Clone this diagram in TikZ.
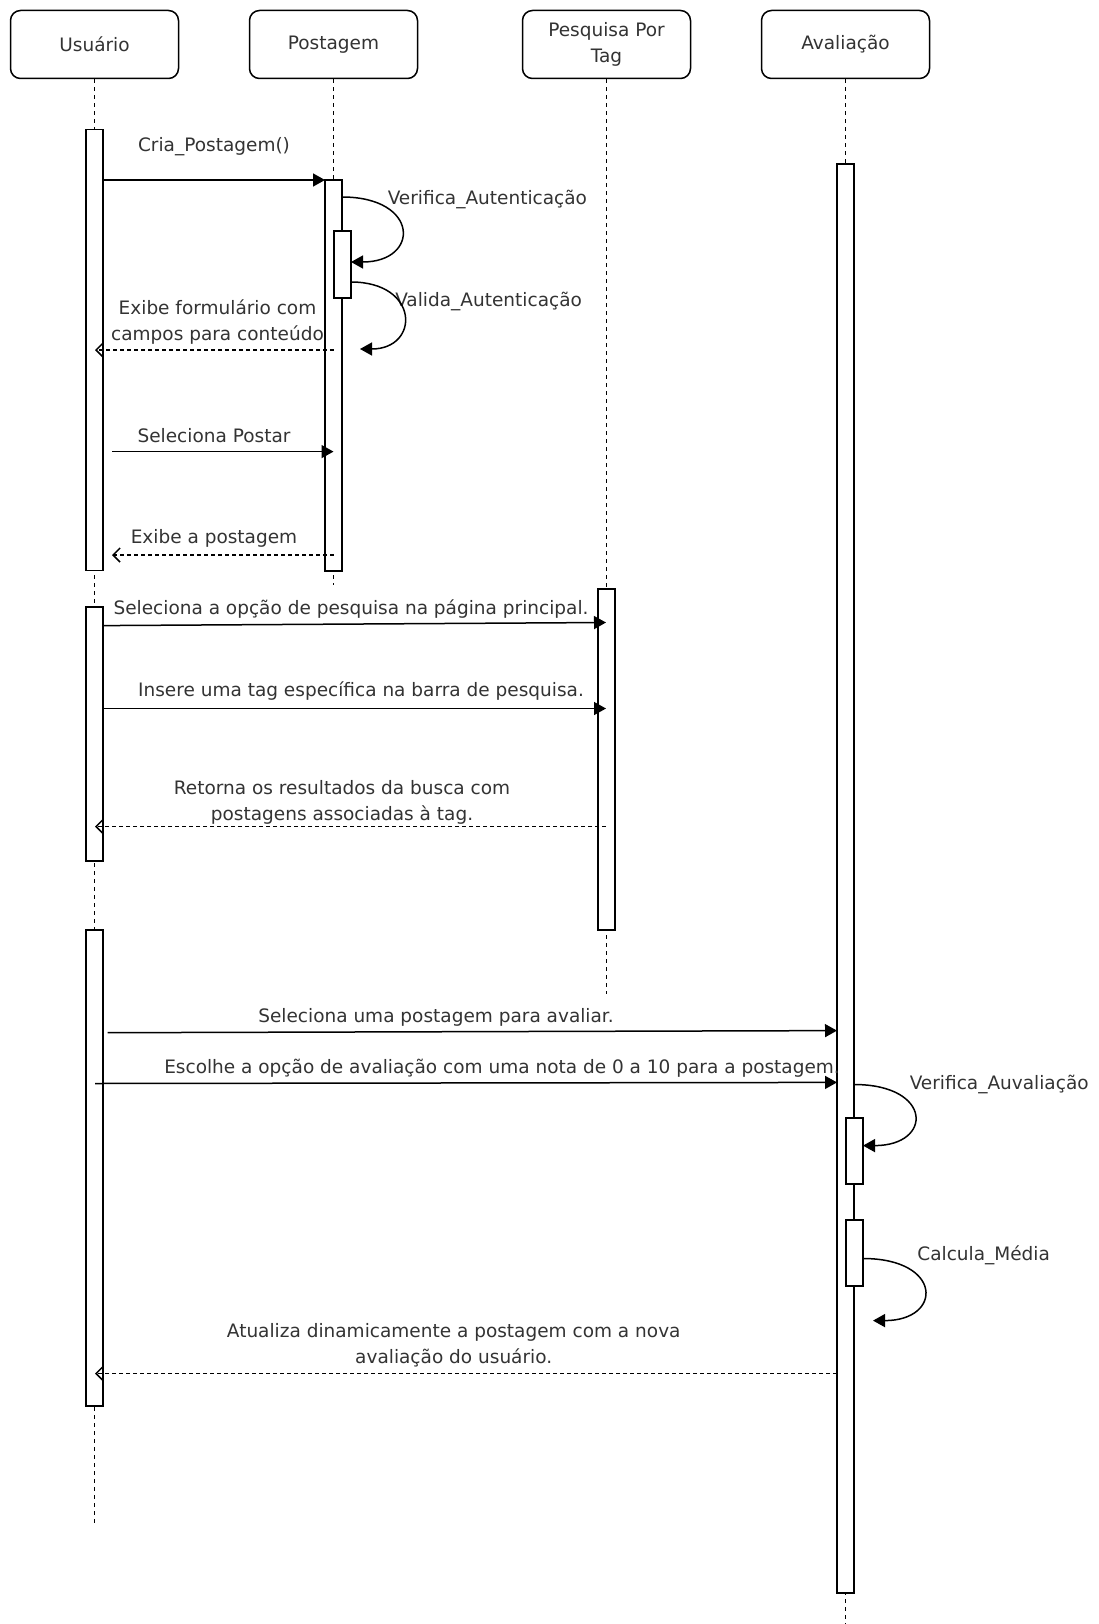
\documentclass[tikz,border=0pt]{standalone}
\usepackage{fontspec}
\setmainfont{DejaVu Sans}
\usetikzlibrary{arrows.meta}
\definecolor{txt}{HTML}{333333}
\newcommand\lblfont{\fontsize{18.5}{26}\selectfont}
\begin{document}
\begin{tikzpicture}[x=1pt,y=-1pt,line width=1.5pt,
  head/.style={draw,rounded corners=10pt,minimum width=168pt,minimum height=68pt,
    align=center,fill=white,text=txt,font=\lblfont,inner sep=2pt},
  bar/.style={draw,fill=white,minimum width=17pt,inner sep=0pt},
  life/.style={dash pattern=on 4pt off 4pt,line width=1.3pt},
  msg/.style={-{Triangle[length=12pt,width=13pt]}},
  ret/.style={dash pattern=on 4pt off 3pt,-{Straight Barb[length=7pt,width=14pt]}},
  lbl/.style={text=txt,font=\lblfont,align=center,inner sep=1pt},
  lblw/.style={lbl,anchor=west}]
\useasboundingbox (0,0) rectangle (1098,1624);
% heads
\node[head] (usr) at (94.5,44.5) {Usuário};
\node[head] (pst) at (333.5,44.5) {Postagem};
\node[head] (pes) at (606.5,44.5) {Pesquisa Por\\Tag};
\node[head] (ava) at (845.5,44.5) {Avaliação};
% lifeline ends
\coordinate (usrE) at (94.5,1525);
\coordinate (pstE) at (333.5,585);
\coordinate (pesE) at (606.5,994);
\coordinate (avaE) at (845.5,1624);
\draw[life] (usr) -- (usrE);
\draw[life] (pst) -- (pstE);
\draw[life] (pes) -- (pesE);
\draw[life] (ava) -- (avaE);
% activation bars
\node[bar,minimum height=441pt] (u1) at (94.5,350.1) {};
\node[bar,minimum height=254pt] (u2) at (94.5,734) {};
\node[bar,minimum height=476pt] (u3) at (94.5,1168) {};
\node[bar,minimum height=391pt] (p1) at (333.5,375.5) {};
\node[bar,minimum height=67pt] (pn) at (342.5,264.5) {};
\node[bar,minimum height=341pt] (q1) at (606.5,759.5) {};
\node[bar,minimum height=1429pt] (a1) at (845.5,878.3) {};
\node[bar,minimum height=66pt] (an1) at (854.5,1150.8) {};
\node[bar,minimum height=66pt] (an2) at (854.5,1253) {};
% message end points
\coordinate (m1a) at (103,180);   \coordinate (m1b) at (325,180);
\coordinate (s1a) at (342,197);   \coordinate (s1b) at (351,262);
\coordinate (s2a) at (351,282);   \coordinate (s2b) at (360,349);
\coordinate (r1a) at (333.5,350); \coordinate (r1b) at (95,350);
\coordinate (m2a) at (112,451.6); \coordinate (m2b) at (333.5,451.6);
\coordinate (r2a) at (333.5,555); \coordinate (r2b) at (112,555);
\coordinate (m3a) at (103,625.6); \coordinate (m3b) at (606,622.5);
\coordinate (m4a) at (103,708.5); \coordinate (m4b) at (606,708.5);
\coordinate (r3a) at (606,826.6); \coordinate (r3b) at (95,826.6);
\coordinate (m5a) at (107.7,1032.7); \coordinate (m5b) at (837,1030.6);
\coordinate (m6a) at (95,1083.5); \coordinate (m6b) at (837,1082.4);
\coordinate (s3a) at (854,1084.5); \coordinate (s3b) at (863,1145.6);
\coordinate (s4a) at (863,1258.5); \coordinate (s4b) at (873,1320.6);
\coordinate (r4a) at (837,1373.5); \coordinate (r4b) at (95,1373.5);
% labels
\node[lbl] (l1) at (214,147) {Cria\_Postagem()};
\node[lblw] (l2) at (386,199) {Verifica\_Autenticação};
\node[lblw] (l3) at (393.5,301) {Valida\_Autenticação};
\node[lbl] (l4) at (217.5,322.5) {Exibe formulário com\\campos para conteúdo};
\node[lbl] (l5) at (214,436) {Seleciona Postar};
\node[lbl] (l6) at (214,538.6) {Exibe a postagem};
\node[lbl] (l7) at (351,609) {Seleciona a opção de pesquisa na página principal.};
\node[lbl] (l8) at (361,691) {Insere uma tag específica na barra de pesquisa.};
\node[lbl] (l9) at (342,802) {Retorna os resultados da busca com\\postagens associadas à tag.};
\node[lbl] (l10) at (436,1017) {Seleciona uma postagem para avaliar.};
\node[lbl] (l11) at (502,1068) {Escolhe a opção de avaliação com uma nota de 0 a 10 para a postagem.};
\node[lblw] (l12) at (908,1084.5) {Verifica\_Auvaliação};
\node[lblw] (l13) at (915.6,1255) {Calcula\_Média};
\node[lbl] (l14) at (453.7,1345.5) {Atualiza dinamicamente a postagem com a nova\\avaliação do usuário.};
% messages
\draw[msg] (m1a) -- (m1b);
\draw[msg] (s1a) .. controls (420,197) and (420,262) .. (s1b);
\draw[msg] (s2a) .. controls (420,282) and (420,349) .. (s2b);
\draw[ret] (r1a) -- (r1b);
\draw[msg] (m2a) -- (m2b);
\draw[ret] (r2a) -- (r2b);
\draw[msg] (m3a) -- (m3b);
\draw[msg] (m4a) -- (m4b);
\draw[ret] (r3a) -- (r3b);
\draw[msg] (m5a) -- (m5b);
\draw[msg] (m6a) -- (m6b);
\draw[msg] (s3a) .. controls (933,1084.5) and (933,1145.6) .. (s3b);
\draw[msg] (s4a) .. controls (943,1258.5) and (943,1320.6) .. (s4b);
\draw[ret] (r4a) -- (r4b);
\end{tikzpicture}
\end{document}
